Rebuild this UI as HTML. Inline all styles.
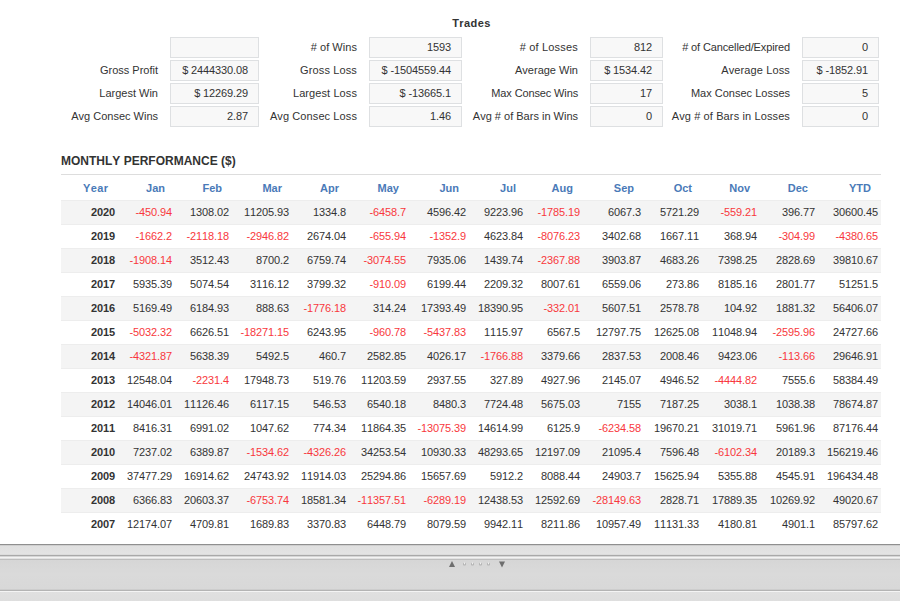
<!DOCTYPE html>
<html>
<head>
<meta charset="utf-8">
<title>Trades</title>
<style>
*{box-sizing:border-box;margin:0;padding:0}
html,body{width:900px;height:601px;overflow:hidden;background:#fff}
body{font-family:"Liberation Sans",sans-serif;font-size:11px;color:#333;position:relative;font-kerning:none;font-feature-settings:"kern" 0,"liga" 0}
.title{position:absolute;left:0;top:17px;letter-spacing:0.4px;width:943px;text-align:center;font-weight:bold;font-size:11px;color:#333;line-height:13px}
.lbl{position:absolute;height:21px;line-height:21px;text-align:right;white-space:nowrap;color:#333}
.box{letter-spacing:-0.12px;position:absolute;height:21px;line-height:19px;border:1px solid #dee0e2;background:#f8f8f8;text-align:right;padding-right:10px;color:#333;white-space:nowrap}
h3{position:absolute;left:61px;top:154px;font-size:12px;font-weight:bold;color:#333;line-height:14px;white-space:nowrap}
table{position:absolute;left:61px;top:174px;width:820px;border-collapse:separate;border-spacing:0;table-layout:fixed}
th{height:26px;border-top:1px solid #ddd;padding-top:0;color:#4a7ab8;font-weight:bold;text-align:right;padding-right:9px;font-size:11px;vertical-align:middle}
td{letter-spacing:-0.12px;height:24px;border-top:1px solid #ededed;padding-bottom:2px;text-align:right;padding-right:2px;font-size:11px;vertical-align:middle;color:#333;white-space:nowrap}
td:first-child{font-weight:bold}
td:last-child{padding-right:3px}
th:last-child{padding-right:10px}
th:first-child{letter-spacing:0.4px;padding-right:8.6px}
tbody tr:nth-child(odd) td{background:#f4f4f4}
td.n{color:#f8383c}
.bar{position:absolute;left:0;top:544px;width:900px;height:57px;background:
linear-gradient(to bottom,
#8f8f8f 0,#8f8f8f 1px,
#cfcfcf 1px,#cfcfcf 2px,
#e0e0e0 2px,#e3e3e3 10px,
#dcdcdc 10px,#dcdcdc 11px,
#a9a9a9 11px,#a9a9a9 12px,
#d6d6d6 12px,#d6d6d6 13px,
#f3f3f3 13px,#f3f3f3 14px,
#e2e2e2 14px,#e2e2e2 15px,
#bebebe 15px,#bebebe 16px,
#d6d6d6 16px,#dadada 30px,#d8d8d8 45px,
#cdcdcd 45px,#cdcdcd 46px,
#b4b4b4 46px,#b4b4b4 47px,
#f4f4f4 47px,#f4f4f4 48px,
#e0e0e0 48px,#dedede 57px)}
.bar svg{position:absolute;left:0;top:0}
</style>
</head>
<body>
<div class="title">Trades</div>
<div class="box" style="left:170px;top:37px;width:89px"></div>
<div class="lbl" style="left:157px;top:37px;width:200px;letter-spacing:0.05px"># of Wins</div>
<div class="box" style="left:369px;top:37px;width:93px">1593</div>
<div class="lbl" style="left:378px;top:37px;width:200px;letter-spacing:0.19px"># of Losses</div>
<div class="box" style="left:590px;top:37px;width:73px">812</div>
<div class="lbl" style="left:590px;top:37px;width:200px;letter-spacing:-0.13px"># of Cancelled/Expired</div>
<div class="box" style="left:802px;top:37px;width:77px">0</div>
<div class="lbl" style="left:-42px;top:60px;width:200px">Gross Profit</div>
<div class="box" style="left:170px;top:60px;width:89px">$ 2444330.08</div>
<div class="lbl" style="left:157px;top:60px;width:200px;letter-spacing:0.13px">Gross Loss</div>
<div class="box" style="left:369px;top:60px;width:93px">$ -1504559.44</div>
<div class="lbl" style="left:378px;top:60px;width:200px">Average Win</div>
<div class="box" style="left:590px;top:60px;width:73px">$ 1534.42</div>
<div class="lbl" style="left:590px;top:60px;width:200px;letter-spacing:0.13px">Average Loss</div>
<div class="box" style="left:802px;top:60px;width:77px">$ -1852.91</div>
<div class="lbl" style="left:-42px;top:83px;width:200px">Largest Win</div>
<div class="box" style="left:170px;top:83px;width:89px">$ 12269.29</div>
<div class="lbl" style="left:157px;top:83px;width:200px;letter-spacing:0.09px">Largest Loss</div>
<div class="box" style="left:369px;top:83px;width:93px">$ -13665.1</div>
<div class="lbl" style="left:378px;top:83px;width:200px;letter-spacing:-0.13px">Max Consec Wins</div>
<div class="box" style="left:590px;top:83px;width:73px">17</div>
<div class="lbl" style="left:590px;top:83px;width:200px">Max Consec Losses</div>
<div class="box" style="left:802px;top:83px;width:77px">5</div>
<div class="lbl" style="left:-42px;top:106px;width:200px">Avg Consec Wins</div>
<div class="box" style="left:170px;top:106px;width:89px">2.87</div>
<div class="lbl" style="left:157px;top:106px;width:200px;letter-spacing:0.1px">Avg Consec Loss</div>
<div class="box" style="left:369px;top:106px;width:93px">1.46</div>
<div class="lbl" style="left:378px;top:106px;width:200px">Avg # of Bars in Wins</div>
<div class="box" style="left:590px;top:106px;width:73px">0</div>
<div class="lbl" style="left:590px;top:106px;width:200px;letter-spacing:0.12px">Avg # of Bars in Losses</div>
<div class="box" style="left:802px;top:106px;width:77px">0</div>
<h3>MONTHLY PERFORMANCE ($)</h3>
<table>
<colgroup>
<col style="width:56px"><col style="width:57px"><col style="width:57px"><col style="width:60px"><col style="width:57px"><col style="width:60px"><col style="width:60px"><col style="width:57px"><col style="width:57px"><col style="width:61px"><col style="width:58px"><col style="width:58px"><col style="width:58px"><col style="width:64px">
</colgroup>
<thead><tr><th>Year</th><th>Jan</th><th>Feb</th><th>Mar</th><th>Apr</th><th>May</th><th>Jun</th><th>Jul</th><th>Aug</th><th>Sep</th><th>Oct</th><th>Nov</th><th>Dec</th><th>YTD</th></tr></thead>
<tbody>
<tr><td>2020</td><td class="n">-450.94</td><td>1308.02</td><td>11205.93</td><td>1334.8</td><td class="n">-6458.7</td><td>4596.42</td><td>9223.96</td><td class="n">-1785.19</td><td>6067.3</td><td>5721.29</td><td class="n">-559.21</td><td>396.77</td><td>30600.45</td></tr>
<tr><td>2019</td><td class="n">-1662.2</td><td class="n">-2118.18</td><td class="n">-2946.82</td><td>2674.04</td><td class="n">-655.94</td><td class="n">-1352.9</td><td>4623.84</td><td class="n">-8076.23</td><td>3402.68</td><td>1667.11</td><td>368.94</td><td class="n">-304.99</td><td class="n">-4380.65</td></tr>
<tr><td>2018</td><td class="n">-1908.14</td><td>3512.43</td><td>8700.2</td><td>6759.74</td><td class="n">-3074.55</td><td>7935.06</td><td>1439.74</td><td class="n">-2367.88</td><td>3903.87</td><td>4683.26</td><td>7398.25</td><td>2828.69</td><td>39810.67</td></tr>
<tr><td>2017</td><td>5935.39</td><td>5074.54</td><td>3116.12</td><td>3799.32</td><td class="n">-910.09</td><td>6199.44</td><td>2209.32</td><td>8007.61</td><td>6559.06</td><td>273.86</td><td>8185.16</td><td>2801.77</td><td>51251.5</td></tr>
<tr><td>2016</td><td>5169.49</td><td>6184.93</td><td>888.63</td><td class="n">-1776.18</td><td>314.24</td><td>17393.49</td><td>18390.95</td><td class="n">-332.01</td><td>5607.51</td><td>2578.78</td><td>104.92</td><td>1881.32</td><td>56406.07</td></tr>
<tr><td>2015</td><td class="n">-5032.32</td><td>6626.51</td><td class="n">-18271.15</td><td>6243.95</td><td class="n">-960.78</td><td class="n">-5437.83</td><td>1115.97</td><td>6567.5</td><td>12797.75</td><td>12625.08</td><td>11048.94</td><td class="n">-2595.96</td><td>24727.66</td></tr>
<tr><td>2014</td><td class="n">-4321.87</td><td>5638.39</td><td>5492.5</td><td>460.7</td><td>2582.85</td><td>4026.17</td><td class="n">-1766.88</td><td>3379.66</td><td>2837.53</td><td>2008.46</td><td>9423.06</td><td class="n">-113.66</td><td>29646.91</td></tr>
<tr><td>2013</td><td>12548.04</td><td class="n">-2231.4</td><td>17948.73</td><td>519.76</td><td>11203.59</td><td>2937.55</td><td>327.89</td><td>4927.96</td><td>2145.07</td><td>4946.52</td><td class="n">-4444.82</td><td>7555.6</td><td>58384.49</td></tr>
<tr><td>2012</td><td>14046.01</td><td>11126.46</td><td>6117.15</td><td>546.53</td><td>6540.18</td><td>8480.3</td><td>7724.48</td><td>5675.03</td><td>7155</td><td>7187.25</td><td>3038.1</td><td>1038.38</td><td>78674.87</td></tr>
<tr><td>2011</td><td>8416.31</td><td>6991.02</td><td>1047.62</td><td>774.34</td><td>11864.35</td><td class="n">-13075.39</td><td>14614.99</td><td>6125.9</td><td class="n">-6234.58</td><td>19670.21</td><td>31019.71</td><td>5961.96</td><td>87176.44</td></tr>
<tr><td>2010</td><td>7237.02</td><td>6389.87</td><td class="n">-1534.62</td><td class="n">-4326.26</td><td>34253.54</td><td>10930.33</td><td>48293.65</td><td>12197.09</td><td>21095.4</td><td>7596.48</td><td class="n">-6102.34</td><td>20189.3</td><td>156219.46</td></tr>
<tr><td>2009</td><td>37477.29</td><td>16914.62</td><td>24743.92</td><td>11914.03</td><td>25294.86</td><td>15657.69</td><td>5912.2</td><td>8088.44</td><td>24903.7</td><td>15625.94</td><td>5355.88</td><td>4545.91</td><td>196434.48</td></tr>
<tr><td>2008</td><td>6366.83</td><td>20603.37</td><td class="n">-6753.74</td><td>18581.34</td><td class="n">-11357.51</td><td class="n">-6289.19</td><td>12438.53</td><td>12592.69</td><td class="n">-28149.63</td><td>2828.71</td><td>17889.35</td><td>10269.92</td><td>49020.67</td></tr>
<tr><td>2007</td><td>12174.07</td><td>4709.81</td><td>1689.83</td><td>3370.83</td><td>6448.79</td><td>8079.59</td><td>9942.11</td><td>8211.86</td><td>10957.49</td><td>11131.33</td><td>4180.81</td><td>4901.1</td><td>85797.62</td></tr>
</tbody>
</table>
<div class="bar"><svg width="900" height="57" viewBox="0 0 900 57">
<path d="M452 17 L449 23 L455 23 Z" fill="#6e6e6e"/>
<path d="M499 17.5 L505 17.5 L502 23.5 Z" fill="#6e6e6e"/>
<rect x="463.0" y="18.8" width="3" height="2.6" rx="1" fill="#b2b2b2"/><rect x="463.9" y="18.4" width="1.2" height="1.9" fill="#f0f0f0"/><rect x="471.0" y="18.8" width="3" height="2.6" rx="1" fill="#b2b2b2"/><rect x="471.9" y="18.4" width="1.2" height="1.9" fill="#f0f0f0"/><rect x="479.0" y="18.8" width="3" height="2.6" rx="1" fill="#b2b2b2"/><rect x="479.9" y="18.4" width="1.2" height="1.9" fill="#f0f0f0"/><rect x="487.0" y="18.8" width="3" height="2.6" rx="1" fill="#b2b2b2"/><rect x="487.9" y="18.4" width="1.2" height="1.9" fill="#f0f0f0"/>
</svg></div>
</body>
</html>
